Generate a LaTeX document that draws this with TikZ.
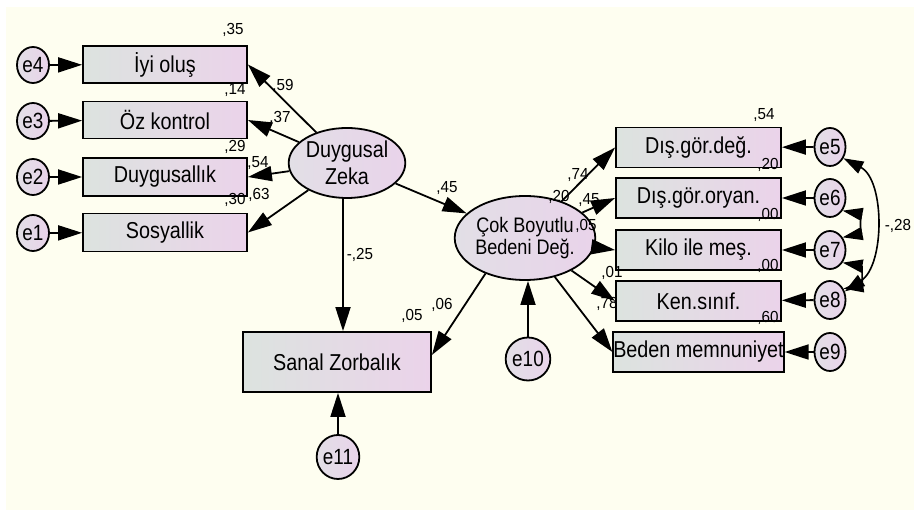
\documentclass[tikz,border=0pt]{standalone}
\usepackage{fontspec}
\setmainfont{Liberation Sans}[FakeStretch=0.86]
\newfontfamily\numf{Liberation Sans}[FakeStretch=0.95]
\usetikzlibrary{arrows.meta,shapes.geometric}
\definecolor{cream}{HTML}{FEFEF0}
\definecolor{boxL}{HTML}{DCE3DF}
\definecolor{boxR}{HTML}{EBD3EA}
\definecolor{ovL}{HTML}{E2DFE6}
\definecolor{ovR}{HTML}{E9D3EA}
\tikzset{
  obs/.style={draw, line width=1.8pt, left color=boxL, right color=boxR, inner sep=0pt,
    font=\fontsize{23}{26}\selectfont},
  lat/.style={draw, ellipse, line width=1.8pt, left color=ovL, right color=ovR, inner sep=0pt,
    align=center},
  err/.style={draw, ellipse, line width=1.8pt, left color=ovL, right color=ovR, inner sep=0pt,
    font=\fontsize{22}{24}\selectfont},
  arr/.style={-{Triangle[length=24pt,width=15pt]}, line width=1.8pt},
  cov/.style={{Triangle[length=20pt,width=13pt]}-{Triangle[length=20pt,width=13pt]}, line width=1.6pt},
  num/.style={inner sep=0pt, font=\numf\fontsize{16}{18}\selectfont}
}
\begin{document}
\begin{tikzpicture}[x=1pt,y=-1pt]
\useasboundingbox (0,0) rectangle (914,510);
\fill[white] (0,0) rectangle (914,510);
\fill[cream] (6,7) rectangle (914,510);

% left observed
\node[obs, minimum width=164pt, minimum height=37pt] (iyi) at (165,64.5) {İyi oluş};
\node[obs, minimum width=164pt, minimum height=37pt] (oz) at (165,120) {Öz kontrol};
\node[obs, minimum width=164pt, minimum height=38pt] (duy) at (165,177) {Duygusallık};
\node[obs, minimum width=164pt, minimum height=38pt] (sos) at (165,232.5) {Sosyallik};
\node[err, minimum width=32pt, minimum height=36pt] (e4) at (33,65) {e4};
\node[err, minimum width=32pt, minimum height=36pt] (e3) at (33,121) {e3};
\node[err, minimum width=32pt, minimum height=36pt] (e2) at (33,177) {e2};
\node[err, minimum width=32pt, minimum height=36pt] (e1) at (33,233) {e1};

% latents
\node[lat, minimum width=115pt, minimum height=70pt, font=\fontsize{23}{27}\selectfont] (DZ) at (347,163) {Duygusal\\Zeka};
\node[lat, minimum width=117pt, minimum height=84pt, font=\fontsize{21}{22}\selectfont] (CB) at (525,238) {Çok Boyutlu\\Bedeni Değ.};

% Sanal
\node[obs, minimum width=188pt, minimum height=60pt] (SZ) at (337,362) {Sanal Zorbalık};
\node[err, minimum width=40pt, minimum height=43pt] (e10) at (528,359) {e10};
\node[err, minimum width=39pt, minimum height=44pt] (e11) at (338,457) {e11};

% right observed
\node[obs, minimum width=165pt, minimum height=40pt] (dgd) at (698.5,147.5) {Dış.gör.değ.};
\node[obs, minimum width=165pt, minimum height=40pt] (dgo) at (698.5,198) {Dış.gör.oryan.};
\node[obs, minimum width=165pt, minimum height=40pt] (kil) at (698.5,250) {Kilo ile meş.};
\node[obs, minimum width=165pt, minimum height=40pt] (ken) at (698.5,301) {Ken.sınıf.};
\node[obs, minimum width=165pt, minimum height=40pt] (bed) at (698.5,352) {Beden memnuniyet};
\node[err, minimum width=31pt, minimum height=38pt] (e5) at (830,147) {e5};
\node[err, minimum width=31pt, minimum height=38pt] (e6) at (830,198) {e6};
\node[err, minimum width=31pt, minimum height=38pt] (e7) at (830,250) {e7};
\node[err, minimum width=31pt, minimum height=38pt] (e8) at (830,300) {e8};
\node[err, minimum width=31pt, minimum height=38pt] (e9) at (830,352) {e9};

% numbers
\node[num] (n1) at (233,30) {,35};
\node[num] (n2) at (283,86) {,59};
\node[num] (n3) at (235,90) {,14};
\node[num] (n4) at (280,118) {,37};
\node[num] (n5) at (235,147) {,29};
\node[num] (n6) at (258,163) {,54};
\node[num] (n7) at (235,200) {,30};
\node[num] (n8) at (259,195) {,63};
\node[num] (n9) at (447,188) {,45};
\node[num] (n10) at (360,255) {-,25};
\node[num] (n11) at (412,316) {,05};
\node[num] (n12) at (442,305) {,06};
\node[num] (n13) at (764,115) {,54};
\node[num] (n14) at (768,165) {,20};
\node[num] (n15) at (578,175) {,74};
\node[num] (n16) at (559,197) {,20};
\node[num] (n17) at (589,200) {,45};
\node[num] (n18) at (768,215) {,00};
\node[num] (n19) at (586,226) {,05};
\node[num] (n20) at (768,266) {,00};
\node[num] (n21) at (612,273) {,01};
\node[num] (n22) at (607,304) {,78};
\node[num] (n23) at (768,318) {,60};
\node[num] (n24) at (898,226) {-,28};

% arrows left
\draw[arr] (e4) -- (iyi);
\draw[arr] (e3) -- (oz);
\draw[arr] (e2) -- (duy);
\draw[arr] (e1) -- (sos);
\draw[arr] (DZ) -- (iyi.east);
\draw[arr] (DZ) -- (oz.east);
\draw[arr] (DZ) -- (duy.east);
\draw[arr] (DZ) -- (sos.east);
\draw[arr] (DZ) -- (CB);
\draw[arr] ([xshift=-4pt]DZ.south) -- ([xshift=6pt]SZ.north);
\draw[arr] (CB.222) -- ([yshift=7pt]SZ.east);
\draw[arr] (e10) -- (CB.south -| e10);
\draw[arr] (e11) -- (SZ.south -| e11);

% arrows right
\draw[arr] (CB) -- (dgd.west);
\draw[arr] (CB) -- (dgo.west);
\draw[arr] (CB) -- (kil.west);
\draw[arr] (CB) -- (ken.west);
\draw[arr] (CB) -- (bed.west);
\draw[arr] (e5) -- (dgd);
\draw[arr] (e6) -- (dgo);
\draw[arr] (e7) -- (kil);
\draw[arr] (e8) -- (ken);
\draw[arr] (e9) -- (bed);

% covariances
\draw[cov] (e5.-40) .. controls (885,180) and (885,265) .. (e8.30);
\draw[cov] (e6.-45) .. controls (860,214) and (860,234) .. (e7.45);
\draw[cov] (e7.-45) .. controls (862,266) and (862,286) .. (e8.40);
\end{tikzpicture}
\end{document}
